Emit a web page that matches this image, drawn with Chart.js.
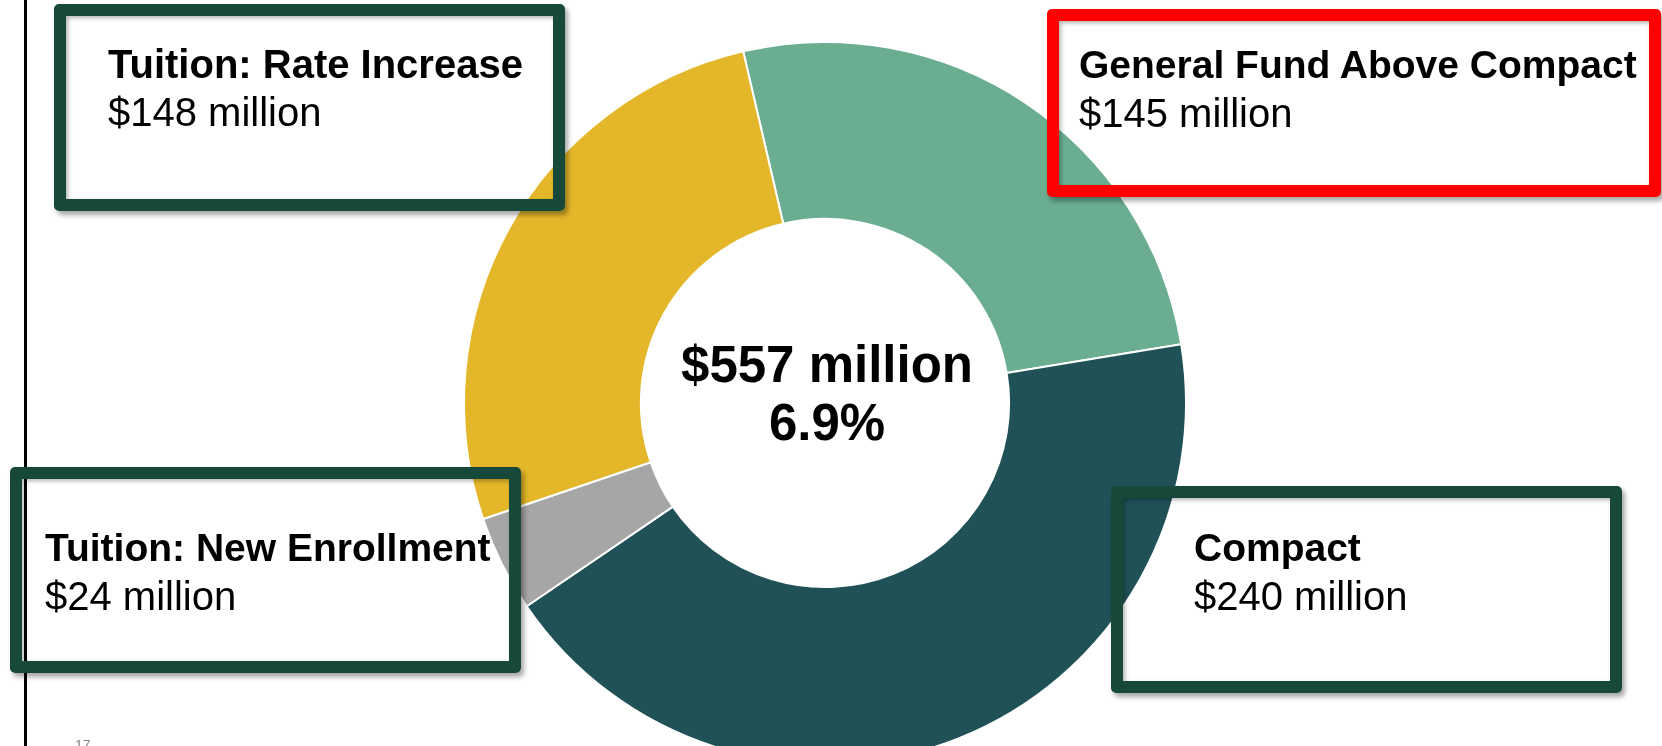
<!DOCTYPE html>
<html>
<head>
<meta charset="utf-8">
<script src="https://cdn.jsdelivr.net/npm/chart.js@4/dist/chart.umd.min.js"></script>
<style>
  html, body { margin: 0; padding: 0; background: #fff; }
  #wrap { position: relative; width: 1662px; height: 746px; overflow: hidden; font-family: "Liberation Sans", Arial, sans-serif; }
  #chart { position: absolute; left: 0; top: 0; }
  .rule { position: absolute; left: 24px; top: 0; width: 3px; height: 746px; background: #000; }
  .box { position: absolute; box-sizing: border-box; border: 12px solid #17493a; border-radius: 5px;
         box-shadow: 3px 4px 5px rgba(0,0,0,0.35), inset 2px 2px 4px rgba(0,0,0,0.3); }
  .box.red { border-color: #ff0000; }
  .lbl { position: absolute; font-size: 40px; line-height: 48px; color: #000; white-space: nowrap; }
  .lbl b { display: block; font-weight: bold; font-size: 39px; }
  #l0 b { font-size: 40px; }
  .pg { position: absolute; left: 75px; top: 738px; font-size: 14px; line-height: 14px; color: #888; }
</style>
</head>
<body>
<div id="wrap">
  <canvas id="chart" width="1662" height="746"></canvas>
  <div class="rule"></div>
  <div class="box" style="left:54px;top:4px;width:511px;height:207px"></div>
  <div class="box red" style="left:1047px;top:9px;width:614px;height:188px"></div>
  <div class="box" style="left:10px;top:467px;width:511px;height:206px"></div>
  <div class="box" style="left:1111px;top:486px;width:511px;height:207px"></div>
  <div class="lbl" id="l0" style="left:108px;top:40px"></div>
  <div class="lbl" id="l1" style="left:1079px;top:41px"></div>
  <div class="lbl" id="l2" style="left:45px;top:524px"></div>
  <div class="lbl" id="l3" style="left:1194px;top:524px"></div>
  <div class="pg">17</div>
</div>
<script>
//// data
const categories = ["General Fund Above Compact", "Compact", "Tuition: New Enrollment", "Tuition: Rate Increase"]
const amounts = [145, 240, 24, 148] // $ million
const sliceColors = ['#6aad91', '#1f5157', '#a6a6a6', '#e4b72a']
const centerLines = ["$557 million", "6.9%"]

// box labels, in the same order as the boxes in the page
const boxOrder = [3, 0, 2, 1]
boxOrder.forEach(function (ci, i) {
    const el = document.getElementById('l' + i)
    el.innerHTML = '<b>' + categories[ci] + '</b>$' + amounts[ci] + ' million'
})

//// center text
const centerText = {
    id: 'centerText',
    afterDraw(chart) {
        const arc = chart.getDatasetMeta(0).data[0]
        const ctx = chart.ctx
        ctx.save()
        ctx.fillStyle = '#000'
        ctx.textAlign = 'center'
        ctx.textBaseline = 'alphabetic'
        ctx.font = 'bold 51px "Liberation Sans", Arial, sans-serif'
        ctx.fillText(centerLines[0], arc.x + 2, arc.y - 21)
        ctx.fillText(centerLines[1], arc.x + 2, arc.y + 37)
        ctx.restore()
    }
}

//// chart
let budgetChart = new Chart(document.getElementById('chart'), {
    type: 'doughnut',
    data: {
        labels: categories,
        datasets: [{
            data: amounts,
            backgroundColor: sliceColors,
            borderColor: '#ffffff',
            borderWidth: 2,
            clip: false
        }]
    },
    options: {
        responsive: false,
        animation: false,
        rotation: -13.1,
        radius: 361,
        cutout: '51%',
        layout: { padding: { left: 0, right: 12, top: 60, bottom: 0 } },
        plugins: {
            legend: { display: false },
            tooltip: { enabled: false }
        }
    },
    plugins: [centerText]
});
</script>
</body>
</html>
